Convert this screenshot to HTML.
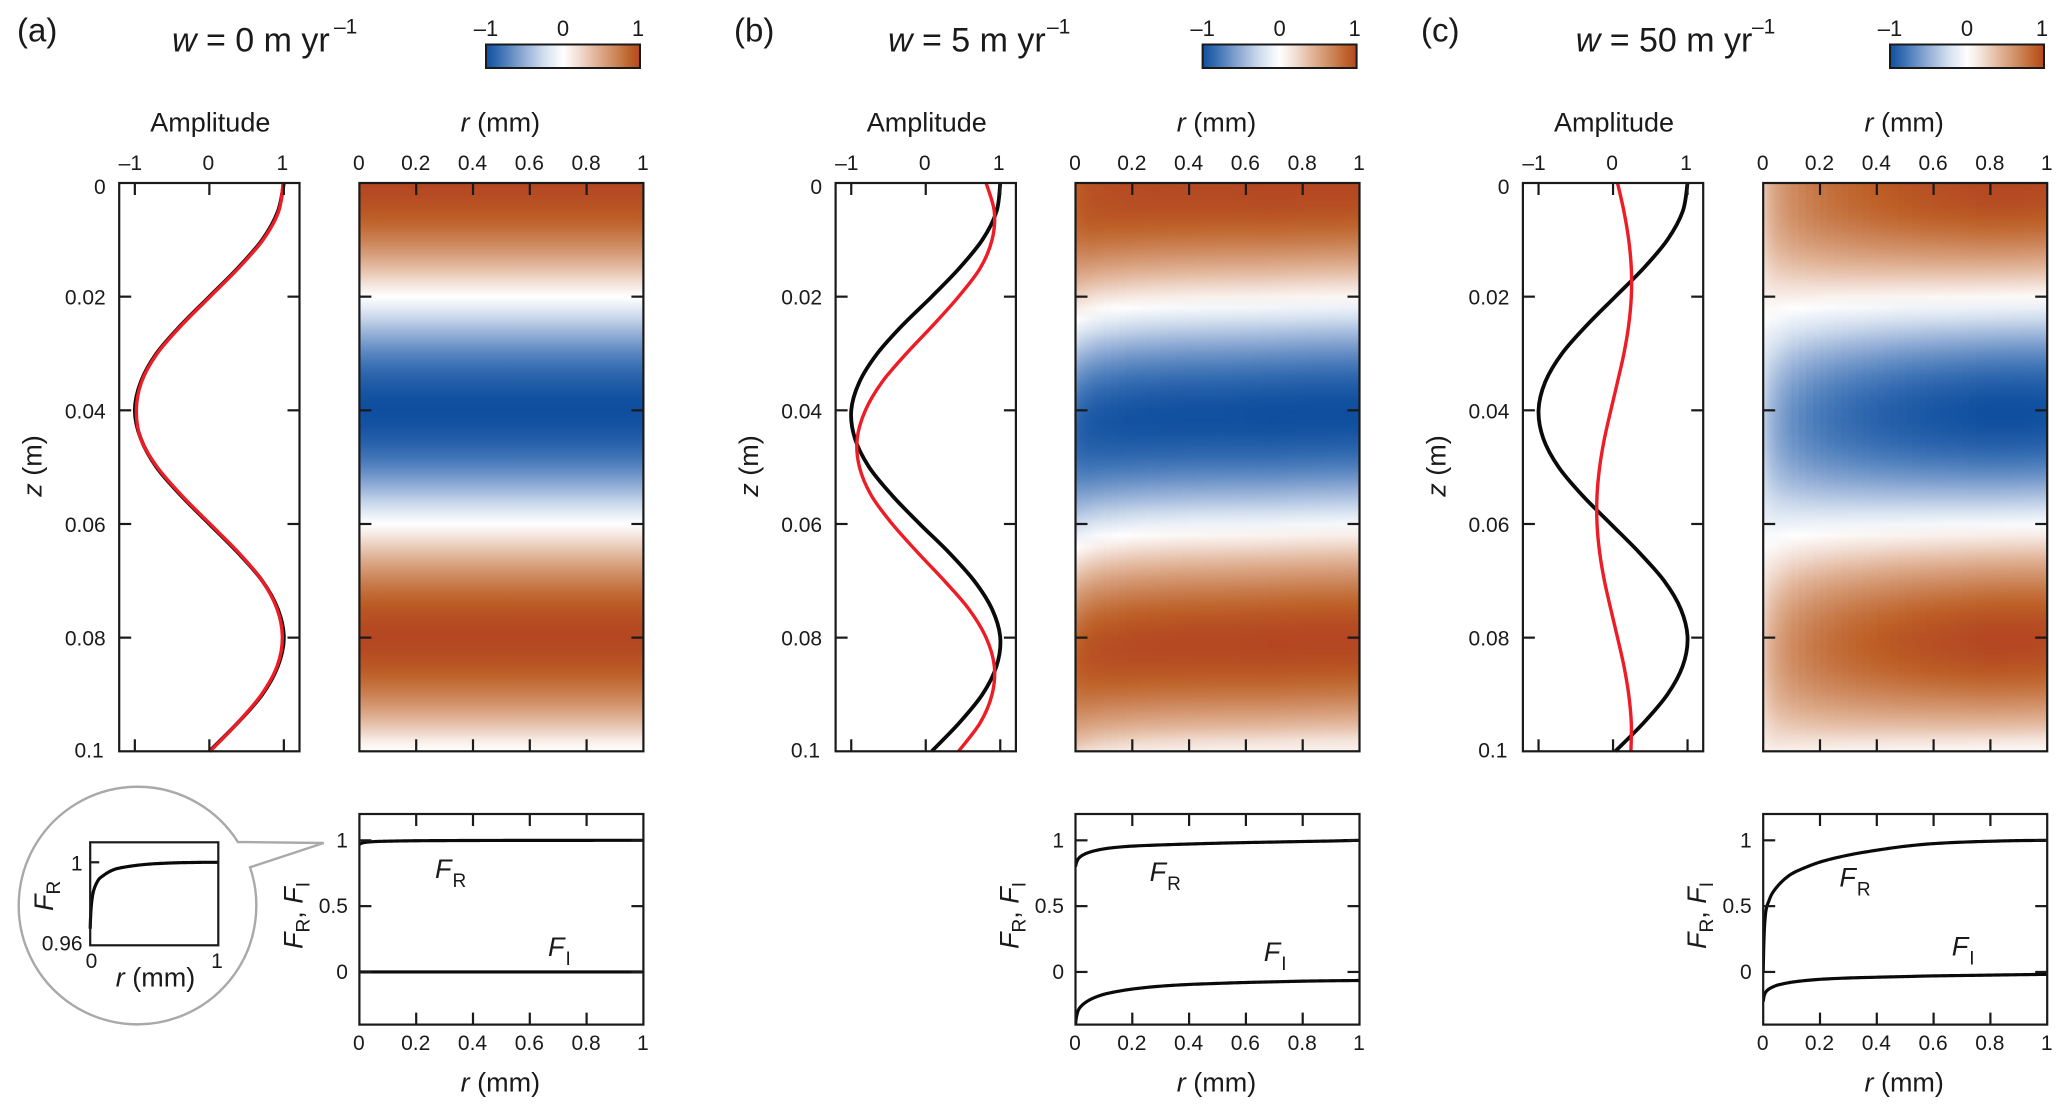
<!DOCTYPE html>
<html lang="en">
<head>
<meta charset="utf-8">
<title>Amplitude and radial structure at three velocities</title>
<style>
html,body{margin:0;padding:0;background:#fff}
svg{display:block;font-family:"Liberation Sans",Arial,sans-serif;fill:#1a1a1a}
</style>
</head>
<body>
<svg id="figure" xmlns="http://www.w3.org/2000/svg" width="2067" height="1114" viewBox="0 0 2067 1114">
<defs id="defs"></defs>
<rect x="0" y="0" width="2067" height="1114" fill="#ffffff"/>
<g id="callout"></g>
<g id="plots"></g>
</svg>
<script>
// ---- axis tick values and labels ----
const zTicks = [0, 0.02, 0.04, 0.06, 0.08, 0.1];
const zTickLabels = ['0', '0.02', '0.04', '0.06', '0.08', '0.1'];
const ampTicks = [-1, 0, 1];
const ampTickLabels = ['\u20131', '0', '1'];
const rTicks = [0, 0.2, 0.4, 0.6, 0.8, 1];
const rTickLabels = ['0', '0.2', '0.4', '0.6', '0.8', '1'];
const fTicks = [0, 0.5, 1];
const fTickLabels = ['0', '0.5', '1'];
const colorbarTicks = [-1, 0, 1];
const colorbarLabels = ['\u20131', '0', '1'];

// ---- depth samples (m) for the amplitude curves ----
const zSamples = [0, 0.005, 0.01, 0.015, 0.02, 0.025, 0.03, 0.035, 0.04, 0.045, 0.05, 0.055, 0.06, 0.065, 0.07, 0.075, 0.08, 0.085, 0.09, 0.095, 0.1];

// ---- amplitude curves: black and red, panels a, b, c ----
const blackA = [1, 0.92, 0.71, 0.38, 0, -0.38, -0.71, -0.92, -1, -0.92, -0.71, -0.38, 0, 0.38, 0.71, 0.92, 1, 0.92, 0.71, 0.38, 0];
const redA = [0.99, 0.93, 0.72, 0.39, 0.01, -0.37, -0.7, -0.91, -0.98, -0.92, -0.7, -0.37, 0.01, 0.39, 0.71, 0.91, 0.98, 0.91, 0.7, 0.38, 0.01];
const blackB = [1, 0.95, 0.76, 0.45, 0.08, -0.31, -0.65, -0.89, -1, -0.95, -0.76, -0.45, -0.08, 0.31, 0.65, 0.89, 1, 0.95, 0.76, 0.45, 0.08];
const redB = [0.81, 0.92, 0.89, 0.73, 0.44, 0.1, -0.26, -0.585, -0.81, -0.92, -0.89, -0.73, -0.45, -0.11, 0.25, 0.58, 0.81, 0.92, 0.89, 0.73, 0.44];
const blackC = [1, 0.935, 0.73, 0.41, 0.03, -0.35, -0.685, -0.91, -1, -0.935, -0.73, -0.41, -0.03, 0.35, 0.685, 0.91, 1, 0.935, 0.73, 0.41, 0.03];
const redC = [0.06, 0.146, 0.21, 0.245, 0.245, 0.21, 0.146, 0.06, -0.03, -0.116, -0.18, -0.215, -0.215, -0.18, -0.116, -0.03, 0.06, 0.146, 0.21, 0.245, 0.24];

// ---- radial samples (mm) ----
const rSamples = [0, 0.002, 0.005, 0.01, 0.02, 0.03, 0.05, 0.07, 0.1, 0.15, 0.2, 0.3, 0.4, 0.5, 0.6, 0.7, 0.8, 0.9, 1];

// ---- radial functions FR and FI ----
const fRealA = [0.968, 0.972, 0.976, 0.98, 0.9845, 0.987, 0.99, 0.992, 0.9935, 0.9955, 0.9968, 0.998, 0.9988, 0.9993, 0.9996, 0.9998, 0.9999, 1, 1];
const fImagA = [0, 0, 0, 0, 0, 0, 0, 0, 0, 0, 0, 0, 0, 0, 0, 0, 0, 0, 0];
const fRealB = [0.8, 0.82, 0.84, 0.86, 0.88, 0.893, 0.91, 0.922, 0.935, 0.948, 0.956, 0.965, 0.972, 0.978, 0.983, 0.987, 0.991, 0.995, 1];
const fImagB = [-0.4, -0.36, -0.325, -0.29, -0.26, -0.24, -0.212, -0.192, -0.17, -0.147, -0.13, -0.108, -0.095, -0.087, -0.08, -0.075, -0.07, -0.067, -0.065];
const fRealC = [0, 0.2, 0.36, 0.47, 0.54, 0.59, 0.65, 0.695, 0.745, 0.795, 0.835, 0.888, 0.925, 0.955, 0.975, 0.986, 0.993, 0.998, 1];
const fImagC = [-0.225, -0.195, -0.17, -0.15, -0.13, -0.118, -0.1, -0.09, -0.078, -0.065, -0.056, -0.046, -0.04, -0.035, -0.03, -0.027, -0.024, -0.021, -0.018];

// ---- heatmap radial gain and depth offset (m), read at rSamples ----
const heatGainA = [1, 1, 1, 1, 1, 1, 1, 1, 1, 1, 1, 1, 1, 1, 1, 1, 1, 1, 1];
const heatShiftA = [0, 0, 0, 0, 0, 0, 0, 0, 0, 0, 0, 0, 0, 0, 0, 0, 0, 0, 0];
const heatGainB = [0.86, 0.87, 0.88, 0.89, 0.91, 0.92, 0.94, 0.95, 0.96, 0.97, 0.98, 0.985, 0.99, 0.99, 0.995, 1, 1, 1, 1];
const heatShiftB = [0.0034, 0.0033, 0.0031, 0.0028, 0.0025, 0.0023, 0.002, 0.0017, 0.0014, 0.0011, 0.0008, 0.0005, 0.0003, 0.0002, 0.0001, 0, -0.0002, -0.0003, -0.0004];
const heatGainC = [0.3, 0.31, 0.33, 0.37, 0.43, 0.47, 0.54, 0.59, 0.65, 0.72, 0.77, 0.84, 0.89, 0.93, 0.96, 0.98, 1, 1, 0.99];
const heatShiftC = [0.0033, 0.0032, 0.003, 0.0028, 0.0026, 0.0024, 0.0023, 0.002, 0.0017, 0.0014, 0.0012, 0.0009, 0.0007, 0.0005, 0.0004, 0.0003, 0.0002, 0.0001, 0];

// ---- diverging colour scale ----
const colorValues = [-1, -0.8, -0.5, -0.25, 0, 0.2, 0.4, 0.7, 0.88, 1];
const colorHexes = ['#0f4e9f', '#3f74b6', '#93aed6', '#d2deee', '#ffffff', '#f2dfd5', '#e3b99f', '#cb8356', '#bd5f26', '#b44722'];

const SVGNS = 'http://www.w3.org/2000/svg';
const INK = '#1a1a1a';
const root = document.getElementById('plots');
const defs = document.getElementById('defs');
let gradientCount = 0;

function mk(tag, attrs, parent) {
  const el = document.createElementNS(SVGNS, tag);
  for (const k in attrs) el.setAttribute(k, attrs[k]);
  (parent || root).appendChild(el);
  return el;
}
function tag(el, name) {
  
  
  return el;
}
function label(parent, name, x, y, str, size, anchor, italic) {
  const attrs = {x: x, y: y, 'font-size': size, 'text-anchor': anchor || 'middle'};
  if (italic) attrs['font-style'] = 'italic';
  const t = mk('text', attrs, parent);
  t.textContent = str;
  return tag(t, name);
}
function linear(d0, d1, p0, p1) {
  return function (v) { return p0 + (v - d0) / (d1 - d0) * (p1 - p0); };
}
function hexToRgb(h) {
  return [parseInt(h.slice(1, 3), 16), parseInt(h.slice(3, 5), 16), parseInt(h.slice(5, 7), 16)];
}
function colorScale(v) {
  const x = Math.max(-1, Math.min(1, v));
  let i = 0;
  while (i < colorValues.length - 2 && x > colorValues[i + 1]) i++;
  const t = (x - colorValues[i]) / (colorValues[i + 1] - colorValues[i]);
  const a = hexToRgb(colorHexes[i]), b = hexToRgb(colorHexes[i + 1]);
  return 'rgb(' + a.map(function (c, k) { return Math.round(c + (b[k] - c) * t); }).join(',') + ')';
}
// monotone cubic interpolation between read samples, for drawing smooth marks
function monoTangents(xs, ys) {
  const n = xs.length, d = [], m = [];
  for (let i = 0; i < n - 1; i++) d.push((ys[i + 1] - ys[i]) / (xs[i + 1] - xs[i]));
  m.push(d[0]);
  for (let i = 1; i < n - 1; i++) {
    if (d[i - 1] * d[i] <= 0) { m.push(0); continue; }
    const h0 = xs[i] - xs[i - 1], h1 = xs[i + 1] - xs[i];
    const w1 = 2 * h1 + h0, w2 = h1 + 2 * h0;
    m.push((w1 + w2) / (w1 / d[i - 1] + w2 / d[i]));
  }
  m.push(d[n - 2]);
  return m;
}
function monoAt(xs, ys, m, x) {
  const n = xs.length;
  if (x <= xs[0]) return ys[0];
  if (x >= xs[n - 1]) return ys[n - 1];
  let i = 0;
  while (i < n - 2 && x > xs[i + 1]) i++;
  const h = xs[i + 1] - xs[i], t = (x - xs[i]) / h, t2 = t * t, t3 = t2 * t;
  return (2 * t3 - 3 * t2 + 1) * ys[i] + (t3 - 2 * t2 + t) * h * m[i] + (-2 * t3 + 3 * t2) * ys[i + 1] + (t3 - t2) * h * m[i + 1];
}
function lookupSmooth(xs, ys, x) {
  const n = xs.length;
  const cx = Math.max(xs[0], Math.min(xs[n - 1], x));
  let i = 0;
  while (i < n - 2 && cx > xs[i + 1]) i++;
  const t = (cx - xs[i]) / (xs[i + 1] - xs[i]);
  const p0 = ys[Math.max(0, i - 1)], p1 = ys[i], p2 = ys[i + 1], p3 = ys[Math.min(n - 1, i + 2)];
  return 0.5 * (2 * p1 + (p2 - p0) * t + (2 * p0 - 5 * p1 + 4 * p2 - p3) * t * t + (3 * p1 - p0 - 3 * p2 + p3) * t * t * t);
}
function smoothPath(pts) {
  let d = 'M' + pts[0][0].toFixed(2) + ' ' + pts[0][1].toFixed(2);
  for (let i = 0; i < pts.length - 1; i++) {
    const p0 = pts[Math.max(0, i - 1)], p1 = pts[i], p2 = pts[i + 1], p3 = pts[Math.min(pts.length - 1, i + 2)];
    d += 'C' + (p1[0] + (p2[0] - p0[0]) / 6).toFixed(2) + ' ' + (p1[1] + (p2[1] - p0[1]) / 6).toFixed(2) + ' ' +
      (p2[0] - (p3[0] - p1[0]) / 6).toFixed(2) + ' ' + (p2[1] - (p3[1] - p1[1]) / 6).toFixed(2) + ' ' +
      p2[0].toFixed(2) + ' ' + p2[1].toFixed(2);
  }
  return d;
}
function radialPath(values, xFn, yFn) {
  const m = monoTangents(rSamples, values);
  const parts = [];
  for (let i = 0; i < rSamples.length - 1; i++) {
    for (let k = 0; k < 10; k++) {
      const r = rSamples[i] + (rSamples[i + 1] - rSamples[i]) * k / 10;
      parts.push(xFn(r).toFixed(2) + ' ' + yFn(monoAt(rSamples, values, m, r)).toFixed(2));
    }
  }
  parts.push(xFn(1).toFixed(2) + ' ' + yFn(values[values.length - 1]).toFixed(2));
  return 'M' + parts.join('L');
}
function frame(parent, name, x0, y0, x1, y1) {
  return tag(mk('rect', {x: x0, y: y0, width: x1 - x0, height: y1 - y0, fill: 'none', stroke: INK, 'stroke-width': 2.2}, parent), name);
}
function tickLine(parent, name, x1, y1, x2, y2) {
  return tag(mk('line', {x1: x1, y1: y1, x2: x2, y2: y2, stroke: INK, 'stroke-width': 2.2}, parent), name);
}
function sketchF(parent, name, x, y, sub) {
  const t = mk('text', {x: x, y: y, 'font-size': 27}, parent);
  tag(t, name);
  const f = mk('tspan', {'font-style': 'italic'}, t);
  f.textContent = 'F';
  const s = mk('tspan', {dy: 9, dx: 1, 'font-size': 19}, t);
  s.textContent = sub;
}

// ---- one panel -------------------------------------------------------------
function drawPanel(p) {
  const g = tag(mk('g', {}), 'panel-' + p.id);
  const top = 183, bottom = 751.3, fTop = 814, fBottom = 1024.6;
  const ampRight = p.ampLeft + 180.3;
  const heatRight = p.heatLeft + 284;
  const zY = linear(0, 0.1, top, bottom);
  const ampX = linear(-1.21, 1.21, p.ampLeft, ampRight);
  const rX = linear(0, 1, p.heatLeft, heatRight);
  const fY = linear(-0.4, 1.2, fBottom, fTop);

  // panel letter and title
  label(g, 'panel-label', p.letterX, 41.5, '(' + p.id + ')', 33, 'start');
  const title = tag(mk('text', {x: p.titleX, y: 51.7, 'font-size': 34}, g), 'panel-title');
  const w = mk('tspan', {'font-style': 'italic'}, title);
  w.textContent = 'w';
  const rest = mk('tspan', {}, title);
  rest.textContent = ' = ' + p.speed + ' m yr';
  label(g, 'title-exponent', p.supX, 33.3, '\u20131', 21, 'start');

  // colour bar
  const cbGrad = mk('linearGradient', {id: 'cb-' + p.id, x1: 0, x2: 1, y1: 0, y2: 0}, defs);
  for (let i = 0; i <= 40; i++) {
    mk('stop', {offset: i / 40, 'stop-color': colorScale(-1 + i / 20)}, cbGrad);
  }
  const cbX = linear(-1, 1, p.cbLeft, p.cbLeft + 154);
  tag(mk('rect', {x: cbX(-1), y: 44.5, width: 154, height: 23.5, fill: 'url(#cb-' + p.id + ')', stroke: INK, 'stroke-width': 2}, g), 'colorbar');
  colorbarTicks.forEach(function (v, i) {
    label(g, 'colorbar-tick-label', cbX(v) + (i === 2 ? -2 : 0), 36, colorbarLabels[i], 22);
  });

  // headers
  label(g, 'amplitude-axis-title', ampX(0) + 1, 131.7, 'Amplitude', 27);
  const rHead = tag(mk('text', {x: rX(0.5) - 1, y: 131.7, 'font-size': 27, 'text-anchor': 'middle'}, g), 'r-axis-title-top');
  const rHeadI = mk('tspan', {'font-style': 'italic'}, rHead);
  rHeadI.textContent = 'r';
  const rHeadU = mk('tspan', {}, rHead);
  rHeadU.textContent = ' (mm)';

  // z axis title
  const zHead = tag(mk('text', {x: 0, y: 0, 'font-size': 27, transform: 'translate(' + (p.ampLeft - 77.5) + ' 496.7) rotate(-90)'}, g), 'z-axis-title');
  const zHeadI = mk('tspan', {'font-style': 'italic'}, zHead);
  zHeadI.textContent = 'z';
  const zHeadU = mk('tspan', {}, zHead);
  zHeadU.textContent = ' (m)';

  // amplitude plot
  const ampG = tag(mk('g', {}, g), 'amplitude-plot');
  mk('rect', {x: p.ampLeft, y: top, width: 180.3, height: bottom - top, fill: '#fff'}, ampG);
  const blackPts = zSamples.map(function (z, i) { return [ampX(p.black[i]), zY(z)]; });
  const redPts = zSamples.map(function (z, i) { return [ampX(p.red[i]), zY(z)]; });
  tag(mk('path', {d: smoothPath(blackPts), fill: 'none', stroke: '#0a0a0a', 'stroke-width': 3.8}, ampG), 'black-amplitude-curve');
  tag(mk('path', {d: smoothPath(redPts), fill: 'none', stroke: '#ee1c25', 'stroke-width': 3.4}, ampG), 'red-amplitude-curve');
  ampTicks.forEach(function (v, i) {
    tickLine(ampG, 'amplitude-tick', ampX(v), top, ampX(v), top + 12);
    tickLine(ampG, 'amplitude-tick', ampX(v), bottom, ampX(v), bottom - 12);
    label(ampG, 'amplitude-tick-label', ampX(v) + (i === 0 ? -4.5 : i === 1 ? -1 : -1.5), 170, ampTickLabels[i], 21);
  });
  zTicks.forEach(function (z, i) {
    if (i > 0 && i < zTicks.length - 1) {
      tickLine(ampG, 'z-tick', p.ampLeft, zY(z), p.ampLeft + 12, zY(z));
      tickLine(ampG, 'z-tick', ampRight, zY(z), ampRight - 12, zY(z));
    }
    const dy = i === 0 ? 11 : i === zTicks.length - 1 ? 6.4 : 8;
    const dx = i === zTicks.length - 1 ? -15.5 : -13.5;
    label(ampG, 'z-tick-label', p.ampLeft + dx, zY(z) + dy, zTickLabels[i], 21, 'end');
  });
  frame(ampG, 'amplitude-plot-frame', p.ampLeft, top, ampRight, bottom);

  // heatmap: one column per radial step, one gradient stop per depth step
  const heatG = tag(mk('g', {}, g), 'heatmap');
  const gainM = monoTangents(rSamples, p.gain);
  const shiftM = monoTangents(rSamples, p.shift);
  const columns = [];
  for (let i = 0; i < 20; i++) columns.push(i * 0.005);
  for (let i = 0; i <= 36; i++) columns.push(0.1 + i * 0.025);
  for (let c = 0; c < columns.length - 1; c++) {
    const r0 = columns[c], r1 = columns[c + 1], rm = (r0 + r1) / 2;
    const gain = monoAt(rSamples, p.gain, gainM, rm);
    const shift = monoAt(rSamples, p.shift, shiftM, rm);
    const id = 'hm-' + p.id + '-' + (gradientCount++);
    const grad = mk('linearGradient', {id: id, x1: 0, x2: 0, y1: 0, y2: 1}, defs);
    for (let k = 0; k <= 50; k++) {
      const z = k * 0.002;
      const value = gain * lookupSmooth(zSamples, p.black, z - shift);
      mk('stop', {offset: k / 50, 'stop-color': colorScale(value)}, grad);
    }
    const cell = mk('rect', {x: rX(r0), y: zY(0), width: rX(r1) - rX(r0) + 0.6, height: zY(0.1) - zY(0), fill: 'url(#' + id + ')'}, heatG);
    tag(cell, 'heatmap-column');
  }
  rTicks.forEach(function (r, i) {
    if (i > 0 && i < rTicks.length - 1) {
      tickLine(heatG, 'r-tick', rX(r), top, rX(r), top + 12);
      tickLine(heatG, 'r-tick', rX(r), bottom, rX(r), bottom - 12);
    }
    label(heatG, 'r-tick-label', rX(r) - 0.5, 170, rTickLabels[i], 21);
  });
  zTicks.slice(1, -1).forEach(function (z) {
    tickLine(heatG, 'z-tick', p.heatLeft, zY(z), p.heatLeft + 12, zY(z));
    tickLine(heatG, 'z-tick', heatRight, zY(z), heatRight - 12, zY(z));
  });
  frame(heatG, 'heatmap-frame', p.heatLeft, top, heatRight, bottom);

  // lower plot of radial functions
  const fG = tag(mk('g', {}, g), 'radial-function-plot');
  const clipId = 'clip-' + p.id;
  const clip = mk('clipPath', {id: clipId}, defs);
  mk('rect', {x: p.heatLeft, y: fTop, width: 284, height: fBottom - fTop}, clip);
  tag(mk('path', {d: radialPath(p.fReal, rX, fY), fill: 'none', stroke: '#0a0a0a', 'stroke-width': 3.2, 'stroke-linejoin': 'round', 'clip-path': 'url(#' + clipId + ')'}, fG), 'f-real-curve');
  tag(mk('path', {d: radialPath(p.fImag, rX, fY), fill: 'none', stroke: '#0a0a0a', 'stroke-width': 3.2, 'stroke-linejoin': 'round', 'clip-path': 'url(#' + clipId + ')'}, fG), 'f-imag-curve');
  rTicks.forEach(function (r, i) {
    if (i > 0 && i < rTicks.length - 1) {
      tickLine(fG, 'r-tick', rX(r), fTop, rX(r), fTop + 12);
      tickLine(fG, 'r-tick', rX(r), fBottom, rX(r), fBottom - 12);
    }
    label(fG, 'r-tick-label', rX(r) - 0.5, 1050, rTickLabels[i], 21);
  });
  fTicks.forEach(function (v, i) {
    tickLine(fG, 'f-tick', p.heatLeft, fY(v), p.heatLeft + 12, fY(v));
    tickLine(fG, 'f-tick', heatRight, fY(v), heatRight - 12, fY(v));
    label(fG, 'f-tick-label', p.heatLeft - 11.5, fY(v) + 7, fTickLabels[i], 21, 'end');
  });
  frame(fG, 'radial-function-frame', p.heatLeft, fTop, heatRight, fBottom);
  sketchF(fG, 'f-real-label', p.frX, p.frY, 'R');
  sketchF(fG, 'f-imag-label', p.fiX, p.fiY, 'I');

  const rFoot = tag(mk('text', {x: rX(0.5) - 1, y: 1091.7, 'font-size': 27, 'text-anchor': 'middle'}, fG), 'r-axis-title-bottom');
  const rFootI = mk('tspan', {'font-style': 'italic'}, rFoot);
  rFootI.textContent = 'r';
  const rFootU = mk('tspan', {}, rFoot);
  rFootU.textContent = ' (mm)';

  // rotated FR, FI title
  const yT = tag(mk('text', {x: 0, y: 0, 'font-size': 27, transform: 'translate(' + (p.heatLeft - 57) + ' 949) rotate(-90)'}, fG), 'f-axis-title');
  const y1 = mk('tspan', {'font-style': 'italic'}, yT);
  y1.textContent = 'F';
  const y2 = mk('tspan', {dy: 7, 'font-size': 19}, yT);
  y2.textContent = 'R';
  const y3 = mk('tspan', {dy: -7}, yT);
  y3.textContent = ', ';
  const y4 = mk('tspan', {'font-style': 'italic'}, yT);
  y4.textContent = 'F';
  const y5 = mk('tspan', {dy: 7, 'font-size': 19}, yT);
  y5.textContent = 'I';
}

drawPanel({id: 'a', speed: '0', letterX: 17, titleX: 172, supX: 334, cbLeft: 486,
  ampLeft: 119.2, heatLeft: 359.4, black: blackA, red: redA, gain: heatGainA, shift: heatShiftA,
  fReal: fRealA, fImag: fImagA, frX: 435, frY: 878, fiX: 548, fiY: 956});
drawPanel({id: 'b', speed: '5', letterX: 734, titleX: 888, supX: 1047, cbLeft: 1202.6,
  ampLeft: 835.6, heatLeft: 1075.5, black: blackB, red: redB, gain: heatGainB, shift: heatShiftB,
  fReal: fRealB, fImag: fImagB, frX: 1149.6, frY: 881, fiX: 1263.8, fiY: 961});
drawPanel({id: 'c', speed: '50', letterX: 1421, titleX: 1575.7, supX: 1752, cbLeft: 1890,
  ampLeft: 1522.9, heatLeft: 1763.2, black: blackC, red: redC, gain: heatGainC, shift: heatShiftC,
  fReal: fRealC, fImag: fImagC, frX: 1839.4, frY: 886.7, fiX: 1951.7, fiY: 955.7});

// ---- inset callout --------------------------------------------------------
(function drawCallout() {
  const g = document.getElementById('callout');
  tag(mk('path', {d: 'M250 867.3 A118.8 118.8 0 1 1 237.9 842 L323.7 843 Z', fill: '#fff', stroke: '#a9a9a9', 'stroke-width': 2.4, 'stroke-linejoin': 'miter'}, g), 'callout-bubble');
  const x0 = 90.2, x1 = 218.3, y0 = 842.3, y1 = 945.3;
  const ix = linear(0, 1, x0, x1);
  const iy = linear(0.96, 1, y1, 862.3);
  tag(mk('path', {d: radialPath(fRealA, ix, iy), fill: 'none', stroke: '#0a0a0a', 'stroke-width': 3.2, 'stroke-linejoin': 'round'}, g), 'inset-f-real-curve');
  tickLine(g, 'inset-tick', x0, iy(1), x0 + 9, iy(1));
  frame(g, 'inset-frame', x0, y0, x1, y1);
  label(g, 'inset-tick-label', 82.6, 870.7, '1', 21, 'end');
  label(g, 'inset-tick-label', 82.6, 950.7, '0.96', 21, 'end');
  label(g, 'inset-tick-label', 91.5, 968, '0', 21);
  label(g, 'inset-tick-label', 217, 968, '1', 21);
  const foot = tag(mk('text', {x: 155.5, y: 986.7, 'font-size': 27, 'text-anchor': 'middle'}, g), 'inset-r-axis-title');
  const fi = mk('tspan', {'font-style': 'italic'}, foot);
  fi.textContent = 'r';
  const fu = mk('tspan', {}, foot);
  fu.textContent = ' (mm)';
  const yt = tag(mk('text', {x: 0, y: 0, 'font-size': 27, transform: 'translate(53 911) rotate(-90)'}, g), 'inset-y-axis-title');
  const t1 = mk('tspan', {'font-style': 'italic'}, yt);
  t1.textContent = 'F';
  const t2 = mk('tspan', {dy: 7, 'font-size': 19}, yt);
  t2.textContent = 'R';
})();
</script>
</body>
</html>
